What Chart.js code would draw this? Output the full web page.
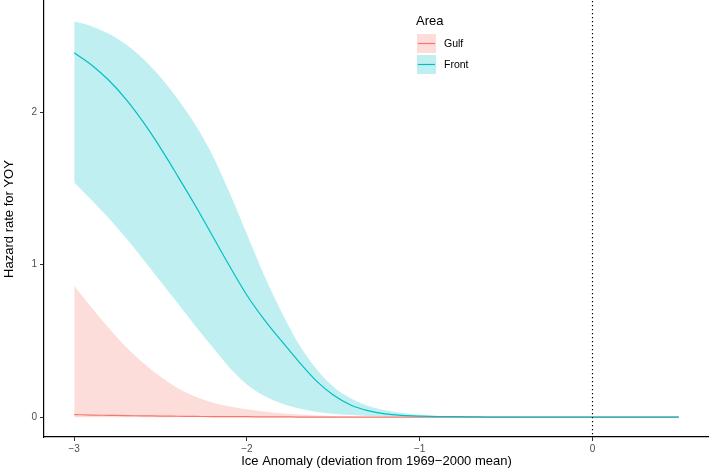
<!DOCTYPE html>
<html><head><meta charset="utf-8">
<script src="https://cdn.jsdelivr.net/npm/chart.js@4.4.1/dist/chart.umd.min.js"></script>
<style>html,body{margin:0;padding:0;background:#fff}canvas{display:block}</style>
</head><body>
<canvas id="c" width="709" height="473"></canvas>
<script>
const SERIES_NAMES = ['Gulf', 'Front'];
const ICE_ANOMALY = [-3.0,-2.9,-2.8,-2.7,-2.6,-2.5,-2.4,-2.3,-2.2,-2.1,-2.0,-1.9,-1.8,-1.7,-1.6,-1.5,-1.4,-1.3,-1.2,-1.1,-1.0,-0.9,-0.8,-0.7,-0.6,-0.5,-0.4,-0.3,-0.2,-0.1,0.0,0.1,0.2,0.3,0.4,0.5];
const GULF_FIT   = [0.017,0.014,0.012,0.010,0.009,0.007,0.006,0.005,0.004,0.003,0.003,0.002,0.002,0.001,0.001,0.001,0,0,0,0,0,0,0,0,0,0,0,0,0,0,0,0,0,0,0,0];
const GULF_LOWER = [0,0,0,0,0,0,0,0,0,0,0,0,0,0,0,0,0,0,0,0,0,0,0,0,0,0,0,0,0,0,0,0,0,0,0,0];
const GULF_UPPER = [0.86,0.72,0.585,0.46,0.355,0.265,0.19,0.135,0.097,0.07,0.052,0.037,0.026,0.017,0.011,0.007,0.004,0.002,0.001,0,0,0,0,0,0,0,0,0,0,0,0,0,0,0,0,0];
const FRONT_FIT   = [2.39,2.31,2.21,2.085,1.935,1.765,1.58,1.39,1.19,0.99,0.80,0.64,0.50,0.365,0.24,0.145,0.08,0.043,0.022,0.012,0.007,0.004,0.003,0.002,0.001,0.001,0,0,0,0,0,0,0,0,0,0];
const FRONT_LOWER = [1.54,1.425,1.305,1.175,1.035,0.89,0.745,0.60,0.46,0.325,0.215,0.14,0.09,0.057,0.035,0.022,0.014,0.008,0.005,0.003,0.002,0.001,0,0,0,0,0,0,0,0,0,0,0,0,0,0];
const FRONT_UPPER = [2.595,2.565,2.515,2.445,2.35,2.23,2.085,1.92,1.72,1.47,1.20,0.93,0.69,0.48,0.32,0.20,0.125,0.075,0.045,0.027,0.016,0.010,0.006,0.003,0.002,0.001,0,0,0,0,0,0,0,0,0,0];
const X_TICKS = [-3, -2, -1, 0];
const X_TICK_LABELS = ['\u22123', '\u22122', '\u22121', '0'];
const Y_TICKS = [0, 1, 2];
const Y_TICK_LABELS = ['0', '1', '2'];
const REFERENCE_X = 0;
const X_TITLE = 'Ice Anomaly (deviation from 1969\u22122000 mean)';
const Y_TITLE = 'Hazard rate for YOY';
const LEGEND_TITLE = 'Area';

const FONT = '"Liberation Sans", Arial, Helvetica, sans-serif';
const LINE_COLORS = { Gulf: '#F8766D', Front: '#00BFC4' };
const FILL_COLORS = { Gulf: 'rgba(248,118,109,0.25)', Front: 'rgba(0,191,196,0.25)' };
const pts = ys => ICE_ANOMALY.map((x, i) => ({ x: x, y: ys[i] }));
const hidden = 'rgba(0,0,0,0)';
const smooth = { cubicInterpolationMode: 'monotone', pointRadius: 0 };

const datasets = [
  Object.assign({ label: 'Gulf lower', data: pts(GULF_LOWER), borderColor: hidden, borderWidth: 1, fill: false, order: 5 }, smooth),
  Object.assign({ label: 'Gulf upper', data: pts(GULF_UPPER), borderColor: hidden, borderWidth: 1, fill: { target: 0 }, backgroundColor: FILL_COLORS.Gulf, order: 5 }, smooth),
  Object.assign({ label: 'Front lower', data: pts(FRONT_LOWER), borderColor: hidden, borderWidth: 1, fill: false, order: 4 }, smooth),
  Object.assign({ label: 'Front upper', data: pts(FRONT_UPPER), borderColor: hidden, borderWidth: 1, fill: { target: 2 }, backgroundColor: FILL_COLORS.Front, order: 4 }, smooth),
  Object.assign({ label: SERIES_NAMES[0], data: pts(GULF_FIT), borderColor: LINE_COLORS.Gulf, borderWidth: 1.2, fill: false, order: 1 }, smooth),
  Object.assign({ label: SERIES_NAMES[1], data: pts(FRONT_FIT), borderColor: LINE_COLORS.Front, borderWidth: 1.2, fill: false, order: 0 }, smooth)
];

const refLine = {
  id: 'refLine',
  afterDatasetsDraw(chart) {
    const { ctx, chartArea } = chart;
    const x = Math.round(chart.scales.x.getPixelForValue(REFERENCE_X)) + 0.5;
    ctx.save();
    ctx.strokeStyle = '#000';
    ctx.lineWidth = 1.2;
    ctx.setLineDash([1.3, 2.7]);
    ctx.beginPath();
    ctx.moveTo(x, chartArea.top);
    ctx.lineTo(x, chartArea.bottom);
    ctx.stroke();
    ctx.restore();
  }
};

const areaLegend = {
  id: 'areaLegend',
  afterDraw(chart) {
    const ctx = chart.ctx;
    ctx.save();
    ctx.fillStyle = '#000';
    ctx.textBaseline = 'middle';
    ctx.textAlign = 'left';
    ctx.font = '13px ' + FONT;
    ctx.fillText(LEGEND_TITLE, 416, 21);
    SERIES_NAMES.forEach((name, i) => {
      const y0 = 34 + i * 21;
      ctx.fillStyle = FILL_COLORS[name];
      ctx.fillRect(417, y0, 19, 19);
      ctx.strokeStyle = LINE_COLORS[name];
      ctx.lineWidth = 1.2;
      ctx.beginPath();
      ctx.moveTo(418, y0 + 9.5);
      ctx.lineTo(435, y0 + 9.5);
      ctx.stroke();
      ctx.fillStyle = '#000';
      ctx.font = '10.5px ' + FONT;
      ctx.fillText(name, 444, y0 + 10);
    });
    ctx.restore();
  }
};

new Chart(document.getElementById('c'), {
  type: 'line',
  data: { datasets: datasets },
  plugins: [refLine, areaLegend],
  options: {
    responsive: false,
    animation: false,
    events: [],
    layout: { padding: { top: 1, right: 0, bottom: 0, left: 0 } },
    plugins: { legend: { display: false }, tooltip: { enabled: false }, filler: { propagate: false } },
    scales: {
      x: {
        type: 'linear',
        min: -3.175,
        max: 0.675,
        afterBuildTicks: s => { s.ticks = X_TICKS.map(v => ({ value: v })); },
        afterFit: s => { s.height = 36; s.paddingLeft = 0; s.paddingRight = 0; },
        ticks: {
          autoSkip: false, maxRotation: 0, padding: 2,
          color: '#4D4D4D', font: { family: FONT, size: 10 },
          callback: v => X_TICK_LABELS[X_TICKS.indexOf(v)]
        },
        grid: { display: true, drawOnChartArea: false, drawTicks: true, tickLength: 4, tickColor: '#333', tickWidth: 1 },
        border: { display: true, color: '#000', width: 1.2 },
        title: { display: true, text: X_TITLE, color: '#000', font: { family: FONT, size: 13 }, padding: { top: 0, bottom: 4 } }
      },
      y: {
        type: 'linear',
        min: -0.13,
        max: 2.73,
        afterBuildTicks: s => { s.ticks = Y_TICKS.map(v => ({ value: v })); },
        afterFit: s => { s.width = 44; s.paddingTop = 0; s.paddingBottom = 0; },
        ticks: {
          autoSkip: false, padding: 3,
          color: '#4D4D4D', font: { family: FONT, size: 10 },
          callback: v => Y_TICK_LABELS[Y_TICKS.indexOf(v)]
        },
        grid: { display: true, drawOnChartArea: false, drawTicks: true, tickLength: 4, tickColor: '#333', tickWidth: 1 },
        border: { display: true, color: '#000', width: 1.2 },
        title: { display: true, text: Y_TITLE, color: '#000', font: { family: FONT, size: 13 }, padding: { top: 2, bottom: 0 } }
      }
    }
  }
});
</script>
</body></html>
